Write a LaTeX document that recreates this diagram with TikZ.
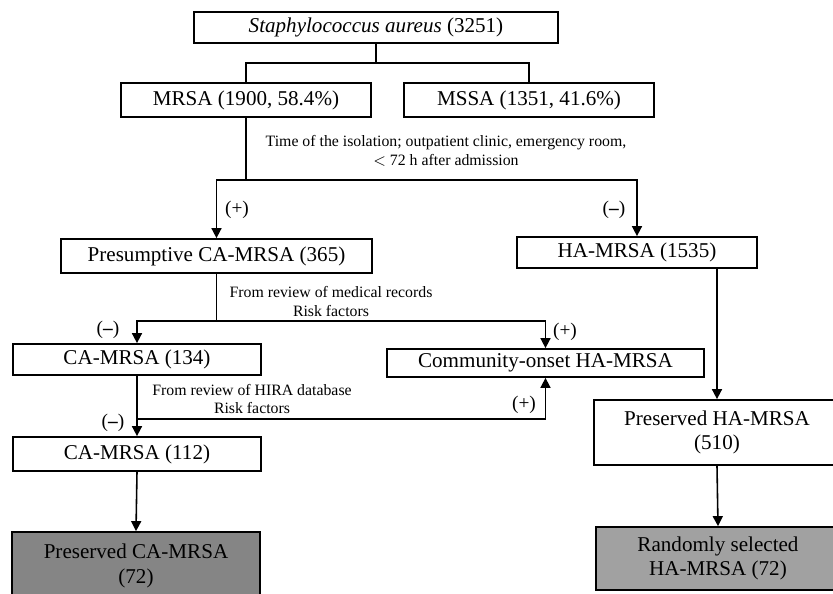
\documentclass[tikz,border=0pt]{standalone}
\usepackage{fontspec}
\setmainfont{Liberation Serif}
\usetikzlibrary{arrows.meta}

\begin{document}
\begin{tikzpicture}[x=0.02cm,y=-0.02cm,
	box/.style={draw,line width=1pt,inner sep=0pt,align=center,
		font=\fontsize{12}{14}\selectfont},
	lbl/.style={inner sep=0pt,align=center,font=\fontsize{9}{10.5}\selectfont},
	sgn/.style={inner sep=0pt,font=\fontsize{11}{12}\selectfont},
	arr/.style={-{Triangle[length=0.2cm,width=0.2cm]}},
	line width=0.9pt]
	\clip (0,0) rectangle (833,593);
	\node[box,minimum width=7.28cm,minimum height=0.62cm] (sa) at (376,27.5)
		{\textit{Staphylococcus aureus} (3251)};
	\node[box,minimum width=5cm,minimum height=0.68cm] (mrsa) at (246,100)
		{MRSA (1900, 58.4\%)};
	\node[box,minimum width=5cm,minimum height=0.68cm] (mssa) at (529,100)
		{MSSA (1351, 41.6\%)};
	\node[box,minimum width=6.22cm,minimum height=0.68cm] (pres) at (216.5,256)
		{Presumptive CA-MRSA (365)};
	\node[box,minimum width=4.8cm,minimum height=0.62cm] (ha) at (637,252.5)
		{HA-MRSA (1535)};
	\node[box,minimum width=4.96cm,minimum height=0.62cm] (ca1) at (137,359.5)
		{CA-MRSA (134)};
	\node[box,minimum width=6.34cm,minimum height=0.56cm] (com) at (545.5,363)
		{Community-onset HA-MRSA};
	\node[box,minimum width=4.96cm,minimum height=0.68cm] (ca2) at (137,454)
		{CA-MRSA (112)};
	\node[box,fill=black!48,minimum width=4.96cm,minimum height=1.36cm] (pca) at (136,566)
		{Preserved CA-MRSA\\(72)};
	\node[box,minimum width=4.92cm,minimum height=1.3cm] (pha) at (717,432.5)
		{Preserved HA-MRSA\\(510)};
	\node[box,fill=black!37,minimum width=4.88cm,minimum height=1.26cm] (rnd) at (718,558.5)
		{Randomly selected\\HA-MRSA (72)};
	\coordinate (r1) at (0,63);
	\coordinate (r2) at (0,180);
	\coordinate (r3) at (0,321);
	\coordinate (r4) at (0,419);
	\draw (sa.south) -- (sa.south |- r1) -| (mrsa.north);
	\draw (sa.south |- r1) -| (mssa.north);
	\draw (mrsa.south) -- (mrsa.south |- r2);
	\draw[arr] (mrsa.south |- r2) -| (pres.north);
	\draw[arr] (mrsa.south |- r2) -| (ha.north);
	\draw (pres.south) -- (pres.south |- r3);
	\draw[arr] (pres.south |- r3) -| (ca1.north);
	\draw[arr] (pres.south |- r3) -| (com.north);
	\draw[arr] (ca1.south) -- (ca2.north);
	\draw[arr] (ca1.south |- r4) -| (com.south);
	\draw[arr] (ca2.south) -- (pca.north);
	\draw[arr] (ha.south -| pha.north) -- (pha.north);
	\draw[arr] (pha.south) -- (rnd.north);
	\node[lbl] (t1) at (446,151)
		{Time of the isolation; outpatient clinic, emergency room,\\$<$ 72 h after admission};
	\node[lbl] (t2) at (331,301.5) {From review of medical records\\Risk factors};
	\node[lbl] (t3) at (252,399) {From review of HIRA database\\Risk factors};
	\node[sgn] (s1) at (237,210) {(+)};
	\node[sgn] (s2) at (614,210) {(\textbf{–})};
	\node[sgn] (s3) at (108,330) {(\textbf{–})};
	\node[sgn] (s4) at (565,332) {(+)};
	\node[sgn] (s5) at (113,423) {(\textbf{–})};
	\node[sgn] (s6) at (524,405) {(+)};
\end{tikzpicture}
\end{document}
